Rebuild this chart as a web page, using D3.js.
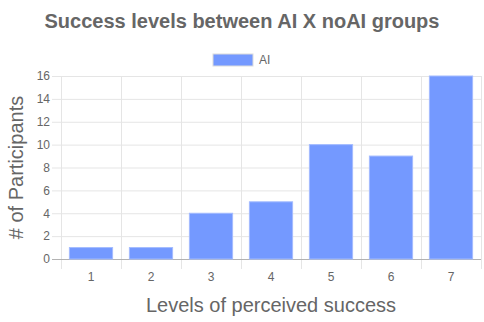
<!DOCTYPE html>
<html>
<head>
<meta charset="utf-8">
<script src="https://cdn.jsdelivr.net/npm/d3@7"></script>
<style>
  body { margin: 0; background: #fff; }
  text { font-family: "Liberation Sans", Arial, Helvetica, sans-serif; fill: #666; }
</style>
</head>
<body>
<svg id="chart" width="484" height="322"></svg>
<script>
const levels = ['1', '2', '3', '4', '5', '6', '7'];
const participants = [1, 1, 4, 5, 10, 9, 16];
const yTicks = [0, 2, 4, 6, 8, 10, 12, 14, 16];
const seriesName = 'AI';

const svg = d3.select('svg#chart');
const margin = { top: 76, right: 3, bottom: 63, left: 61 };
const width = 484, height = 322;
const innerW = width - margin.left - margin.right;
const innerH = height - margin.top - margin.bottom;

const x = d3.scaleBand().domain(levels).range([0, innerW]).paddingInner(0).paddingOuter(0);
const y = d3.scaleLinear().domain([0, 16]).range([innerH, 0]);

const g = svg.append('g').attr('transform', `translate(${margin.left},${margin.top})`);

// horizontal grid + ticks
const yAxis = d3.axisLeft(y).tickValues(yTicks).tickSize(-innerW - 9).tickPadding(4);
g.append('g')
  .attr('transform', 'translate(-9,0)')
  .call(yAxis)
  .call(a => a.select('.domain').remove())
  .call(a => a.selectAll('.tick line').attr('stroke', '#e5e5e5'))
  .call(a => a.selectAll('.tick text').attr('x', -2).style('font-size', '12px').attr('fill', '#666'));

// vertical grid lines at category boundaries
const bounds = levels.map(d => x(d)).concat([innerW]);
g.append('g').selectAll('line').data(bounds).join('line')
  .attr('x1', d => d + 0.5).attr('x2', d => d + 0.5)
  .attr('y1', 0).attr('y2', innerH + 10)
  .attr('stroke', '#e5e5e5');

// zero line
g.append('line')
  .attr('x1', -9).attr('x2', innerW)
  .attr('y1', y(0) + 0.5).attr('y2', y(0) + 0.5)
  .attr('stroke', '#b3b3b3');

// x tick labels
g.append('g').selectAll('text').data(levels).join('text')
  .attr('x', d => x(d) + x.bandwidth() / 2)
  .attr('y', innerH + 22)
  .attr('text-anchor', 'middle')
  .style('font-size', '12px')
  .text(d => d);

// bars
const barW = x.bandwidth() * 0.72;
g.append('g').selectAll('rect').data(participants).join('rect')
  .attr('x', (d, i) => x(levels[i]) + (x.bandwidth() - barW) / 2)
  .attr('y', d => y(d))
  .attr('width', barW)
  .attr('height', d => y(0) - y(d))
  .attr('fill', '#7499ff')
  .attr('stroke', '#a3bbff')
  .attr('stroke-width', 1);

// title
svg.append('text')
  .attr('x', 242).attr('y', 28)
  .attr('text-anchor', 'middle')
  .style('font-size', '20px').style('font-weight', 'bold')
  .text('Success levels between AI X noAI groups');

// legend
svg.append('rect')
  .attr('x', 213).attr('y', 54).attr('width', 40).attr('height', 12)
  .attr('fill', '#7499ff').attr('stroke', '#dcdcdc');
svg.append('text')
  .attr('x', 259).attr('y', 64)
  .style('font-size', '12px')
  .text(seriesName);

// axis titles
svg.append('text')
  .attr('x', margin.left + innerW / 2).attr('y', 312)
  .attr('text-anchor', 'middle')
  .style('font-size', '20px')
  .text('Levels of perceived success');

svg.append('text')
  .attr('transform', `translate(23,${margin.top + innerH / 2}) rotate(-90)`)
  .attr('text-anchor', 'middle')
  .style('font-size', '20px')
  .text('# of Participants');
</script>
</body>
</html>
